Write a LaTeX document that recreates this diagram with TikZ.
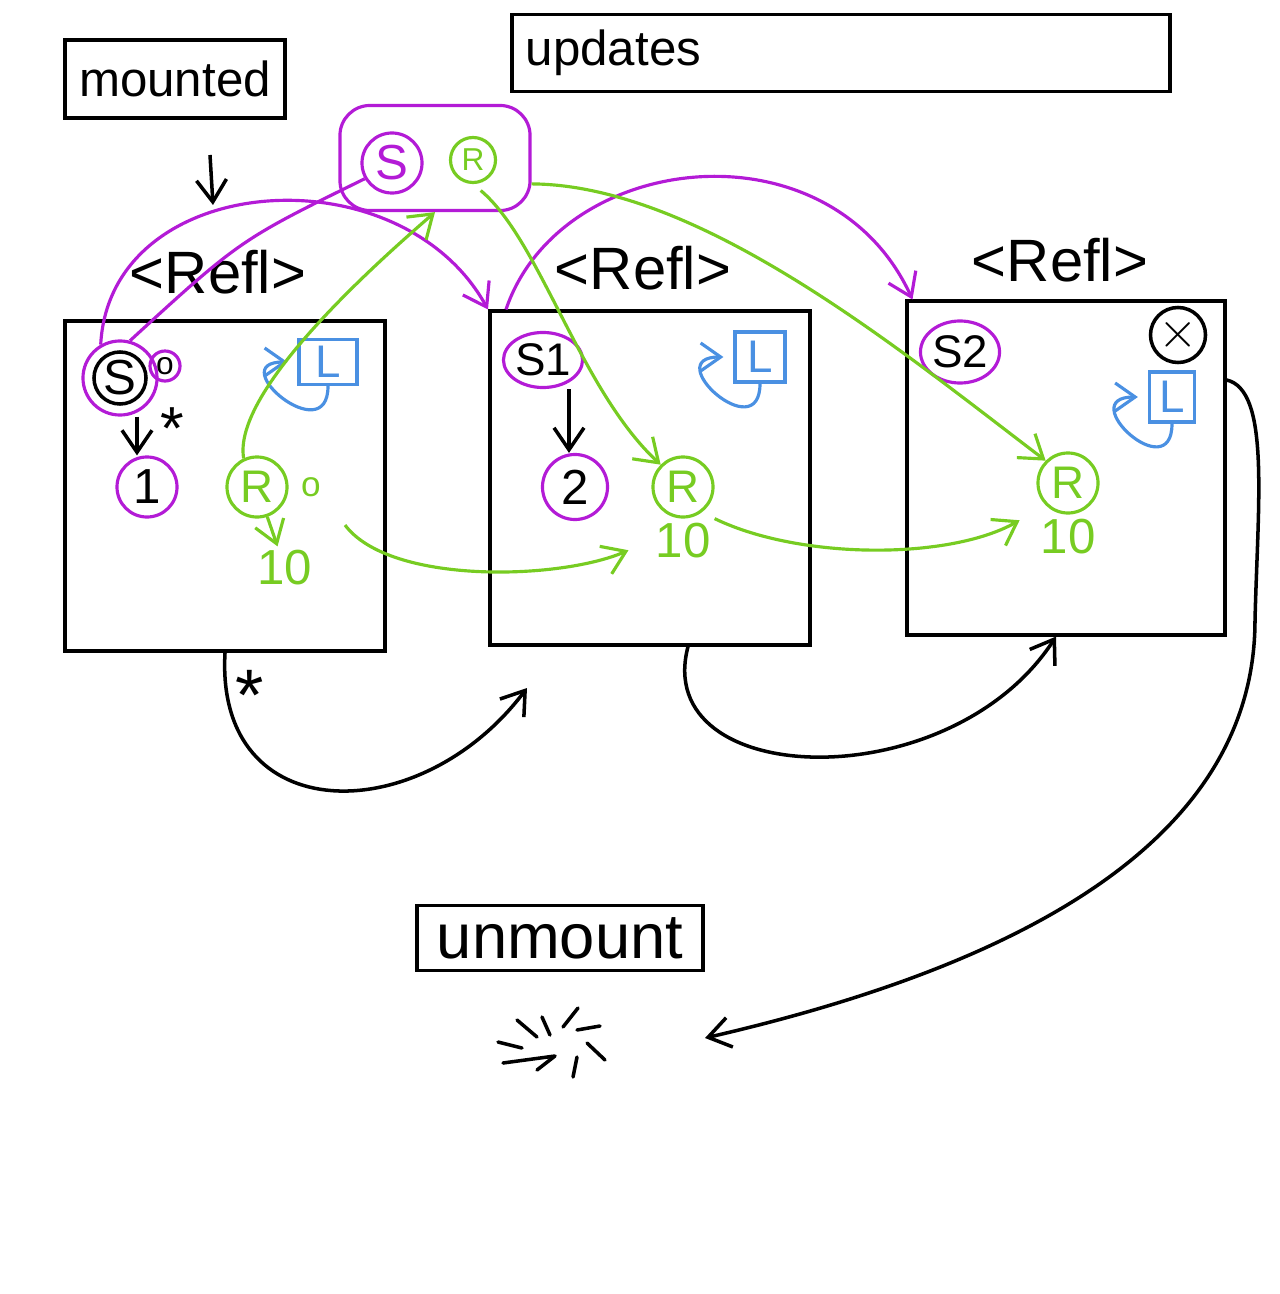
\documentclass[tikz,border=0pt]{standalone}
\usepackage{fontspec}
\setmainfont{Liberation Sans}
\usepackage{tikz}
\usetikzlibrary{shapes.geometric,arrows.meta,positioning}
\definecolor{Mag}{HTML}{B31BD6}
\definecolor{Grn}{HTML}{77CC22}
\definecolor{Blu}{HTML}{4A90E2}
\tikzset{
  comp/.style={rectangle, draw, line width=1.1pt, minimum width=3.2cm, minimum height=3.3cm},
  tag/.style={rectangle, draw, line width=1.1pt, inner sep=2pt},
  refl/.style={font=\fontsize{17}{20}\selectfont},
  mc/.style={circle, draw=Mag, line width=0.9pt, inner sep=0pt, minimum size=6mm,
             font=\fontsize{14}{16}\selectfont},
  gc/.style={circle, draw=Grn, line width=0.9pt, inner sep=0pt, minimum size=6mm,
             text=Grn, font=\fontsize{13}{15}\selectfont},
  lsq/.style={rectangle, draw=Blu, line width=0.9pt, inner sep=0pt, minimum size=5mm,
              text=Blu, font=\fontsize{13}{15}\selectfont},
  gnum/.style={text=Grn, font=\fontsize{14}{16}\selectfont, inner sep=1pt},
  ed/.style={-{Straight Barb[length=2.2mm,width=3mm]}, line width=1pt},
  edm/.style={ed, draw=Mag, line width=0.9pt},
  edg/.style={ed, draw=Grn, line width=0.9pt},
  edb/.style={-{Straight Barb[length=2mm,width=2.8mm]}, draw=Blu, line width=0.9pt}
}
\begin{document}
\begin{tikzpicture}[x=0.01cm, y=-0.01cm]
\useasboundingbox (0,0) rectangle (1280,1294);
% top labels
\node[tag, minimum width=2.2cm, minimum height=0.78cm, font=\fontsize{14}{16}\selectfont] (mnt) at (175,79) {mounted};
\node[tag, minimum height=0.77cm, text width=6.3cm, inner xsep=0.14cm, align=left,
      font=\fontsize{14}{16}\selectfont] (upd) at (841,53) {updates};
\coordinate (m0) at (210,155);
\coordinate (m1) at (213,205);
\draw[ed] (m0) -- (m1);
% store
\node[draw=Mag, line width=0.9pt, rounded corners=3mm, minimum width=1.9cm, minimum height=1.05cm] (st) at (435,158) {};
\node[mc, text=Mag] (Ss) at (392,163) {S};
\node[gc, minimum size=4.5mm, font=\small] (Rs) at (473,160) {R};
% components
\node[comp] (B1) at (225,486) {};
\node[comp, minimum height=3.33cm] (B2) at (650,478) {};
\node[comp, minimum width=3.17cm, minimum height=3.33cm] (B3) at (1066,468) {};
\node[refl] (F1) at (218,272) {<Refl>};
\node[refl] (F2) at (643,268) {<Refl>};
\node[refl] (F3) at (1060,260) {<Refl>};
% first
\node[circle, draw, line width=1pt, minimum size=5.2mm, inner sep=0pt, font=\fontsize{14}{16}\selectfont] (S0) at (120,378) {S};
\node[mc, minimum size=7.4mm] (S0m) at (120,378) {};
\node[mc, minimum size=3mm, font=\small] (S0o) at (165,366) {o};
\node[mc] (N1) at (147,487) {1};
\node[lsq, minimum width=5.8mm, minimum height=4.5mm] (L1) at (328,362) {L};
\node[gc] (R1) at (257,487) {R};
\node[text=Grn, right=0pt of R1] (R1o) {o};
\node[gnum] (T1) at (285,568) {10};
\draw[ed] ([xshift=-1mm]N1.north |- S0m.south) -- node[pos=0.3, right=1mm, font=\LARGE] {*} ([xshift=-1mm]N1.north);
\draw[edg] (R1) -- (T1);
\draw[edb, shorten >=1mm] (L1.south) .. controls +(0,65) and +(-75,0) .. (L1.west);
% second
\node[mc, ellipse, minimum width=7.5mm, minimum height=5.5mm, font=\fontsize{13}{15}\selectfont] (S1) at (543,360) {S1};
\node[mc, minimum size=6.5mm] (N2) at (575,487) {2};
\node[lsq] (L2) at (760,357) {L};
\node[gc] (R2) at (683,487) {R};
\node[gnum, below=0pt of R2] (T2) {10};
\draw[ed] ([xshift=-0.6mm]N2.north |- S1.south) -- ([xshift=-0.6mm]N2.north);
\draw[edb, shorten >=1mm] (L2.south) .. controls +(0,65) and +(-75,0) .. (L2.west);
% third
\node[mc, ellipse, minimum width=7.2mm, minimum height=6.2mm, font=\fontsize{13}{15}\selectfont] (S2) at (960,352) {S2};
\node[circle, draw, line width=1pt, minimum size=5.5mm, inner sep=0pt] (X3) at (1178,335) {\Large$\times$};
\node[lsq, minimum width=4.5mm] (L3) at (1172,397) {L};
\node[gc] (R3) at (1068,483) {R};
\node[gnum, below=0pt of R3] (T3) {10};
\draw[edb, shorten >=1mm] (L3.south) .. controls +(0,65) and +(-75,0) .. (L3.west);
% magenta links
\draw[edm] (S0m.120) .. controls (110,170) and (400,150) .. (B2.north west);
\draw[Mag, line width=0.9pt] (S0m.75) .. controls (240,240) .. (Ss.210);
\draw[edm] ([xshift=1.8mm]B2.north west) .. controls (560,150) and (830,120) .. ([xshift=0.7mm]B3.north west);
% green links
\draw[edg] (R1.115) .. controls (232,390) and (380,260) .. (st.south);
\draw[edg, shorten <=1mm] (Rs.south) .. controls (540,240) and (580,390) .. (R2.north west);
\draw[edg] (st.-15) .. controls (700,185) and (900,350) .. (R3.north west);
\draw[edg, shorten <=2mm, shorten >=2.5mm] (R1o.south east) .. controls (390,585) and (560,580) .. (T2.west);
\draw[edg, shorten >=3mm] (T2.north east) .. controls (800,560) and (950,560) .. (R3.south west);
% black links
\coordinate (k1) at (527,688);
\draw[ed] (B1.south) .. controls (215,830) and (420,830) .. (k1);
\node[font=\huge] (ast) at (250,695) {*};
\draw[ed] ([xshift=3.8mm]B2.south) .. controls (650,790) and (950,800) .. ([xshift=-1mm]B3.south);
% unmount
\node[tag, minimum width=2.85cm, minimum height=0.65cm, font=\fontsize{18}{20}\selectfont] (umt) at (560,938) {unmount};
\coordinate (bin) at (705,1038);
\draw[ed] ([yshift=8.8mm]B3.east) .. controls (1270,390) and (1258,500) .. (1255,620)
  .. controls (1255,850) and (1000,970) .. (bin);
\draw[line width=1pt, line cap=round]
  (517,1020) -- (537,1037) (542,1017) -- (550,1035) (578,1008) -- (563,1027)
  (577,1030) -- (600,1026) (587,1043) -- (605,1060) (498,1042) -- (522,1048)
  (503,1063) -- (555,1056) (537,1070) -- (555,1056) (577,1057) -- (573,1077);
\end{tikzpicture}
\end{document}
